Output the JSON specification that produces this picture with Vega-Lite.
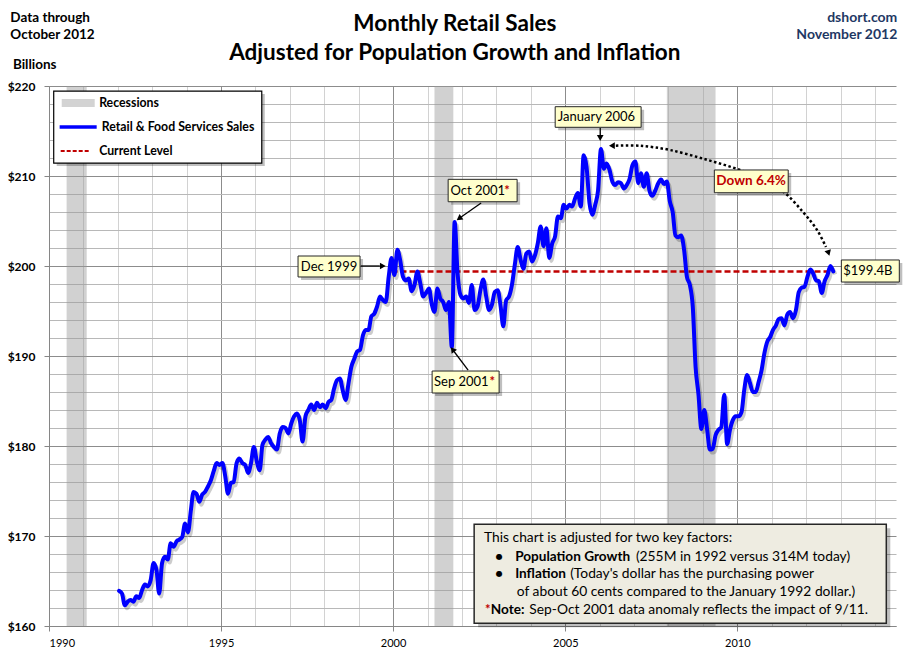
{
  "$schema": "https://vega.github.io/schema/vega-lite/v6.json",
  "width": 847,
  "height": 540,
  "autosize": {"type": "none"},
  "padding": {"left": 49, "top": 86, "right": 15, "bottom": 36},
  "background": "#ffffff",
  "config": {"view": {"stroke": null}, "font": "Lato"},
  "datasets": {
    "sales": [
      {"d":"1992-01-15","v":163.9},{"d":"1992-02-15","v":163.6},{"d":"1992-03-15","v":162.3},{"d":"1992-04-15","v":162.7},{"d":"1992-05-15","v":162.9},{"d":"1992-06-15","v":162.7},{"d":"1992-07-15","v":163.3},{"d":"1992-08-15","v":163.1},{"d":"1992-09-15","v":164.0},{"d":"1992-10-15","v":164.6},{"d":"1992-11-15","v":164.4},{"d":"1992-12-15","v":165.1},
      {"d":"1993-01-15","v":167.0},{"d":"1993-02-15","v":166.2},{"d":"1993-03-15","v":163.6},{"d":"1993-04-15","v":167.0},{"d":"1993-05-15","v":167.7},{"d":"1993-06-15","v":167.4},{"d":"1993-07-15","v":169.2},{"d":"1993-08-15","v":168.8},{"d":"1993-09-15","v":169.4},{"d":"1993-10-15","v":169.6},{"d":"1993-11-15","v":169.9},{"d":"1993-12-15","v":171.4},
      {"d":"1994-01-15","v":170.4},{"d":"1994-02-15","v":172.9},{"d":"1994-03-15","v":174.9},{"d":"1994-04-15","v":174.7},{"d":"1994-05-15","v":173.8},{"d":"1994-06-15","v":174.6},{"d":"1994-07-15","v":174.9},{"d":"1994-08-15","v":175.5},{"d":"1994-09-15","v":176.2},{"d":"1994-10-15","v":177.2},{"d":"1994-11-15","v":178.1},{"d":"1994-12-15","v":177.9},
      {"d":"1995-01-15","v":178.1},{"d":"1995-02-15","v":176.6},{"d":"1995-03-15","v":174.7},{"d":"1995-04-15","v":175.9},{"d":"1995-05-15","v":176.0},{"d":"1995-06-15","v":178.1},{"d":"1995-07-15","v":178.6},{"d":"1995-08-15","v":178.1},{"d":"1995-09-15","v":177.9},{"d":"1995-10-15","v":177.0},{"d":"1995-11-15","v":178.1},{"d":"1995-12-15","v":179.9},
      {"d":"1996-01-15","v":178.3},{"d":"1996-02-15","v":177.3},{"d":"1996-03-15","v":180.1},{"d":"1996-04-15","v":180.7},{"d":"1996-05-15","v":181.0},{"d":"1996-06-15","v":180.3},{"d":"1996-07-15","v":179.9},{"d":"1996-08-15","v":179.6},{"d":"1996-09-15","v":181.4},{"d":"1996-10-15","v":182.1},{"d":"1996-11-15","v":182.0},{"d":"1996-12-15","v":181.4},
      {"d":"1997-01-15","v":182.5},{"d":"1997-02-15","v":183.3},{"d":"1997-03-15","v":183.6},{"d":"1997-04-15","v":182.9},{"d":"1997-05-15","v":180.5},{"d":"1997-06-15","v":183.3},{"d":"1997-07-15","v":184.0},{"d":"1997-08-15","v":184.6},{"d":"1997-09-15","v":184.0},{"d":"1997-10-15","v":184.8},{"d":"1997-11-15","v":184.3},{"d":"1997-12-15","v":184.6},
      {"d":"1998-01-15","v":184.2},{"d":"1998-02-15","v":184.9},{"d":"1998-03-15","v":185.1},{"d":"1998-04-15","v":186.4},{"d":"1998-05-15","v":187.3},{"d":"1998-06-15","v":187.5},{"d":"1998-07-15","v":186.2},{"d":"1998-08-15","v":185.1},{"d":"1998-09-15","v":187.0},{"d":"1998-10-15","v":188.8},{"d":"1998-11-15","v":189.7},{"d":"1998-12-15","v":190.5},
      {"d":"1999-01-15","v":190.7},{"d":"1999-02-15","v":192.3},{"d":"1999-03-15","v":192.9},{"d":"1999-04-15","v":192.9},{"d":"1999-05-15","v":194.4},{"d":"1999-06-15","v":194.7},{"d":"1999-07-15","v":195.5},{"d":"1999-08-15","v":196.6},{"d":"1999-09-15","v":196.2},{"d":"1999-10-15","v":196.0},{"d":"1999-11-15","v":198.8},{"d":"1999-12-15","v":200.9},
      {"d":"2000-01-15","v":199.0},{"d":"2000-02-15","v":201.8},{"d":"2000-03-15","v":200.7},{"d":"2000-04-15","v":198.8},{"d":"2000-05-15","v":198.4},{"d":"2000-06-15","v":198.6},{"d":"2000-07-15","v":197.2},{"d":"2000-08-15","v":197.9},{"d":"2000-09-15","v":199.4},{"d":"2000-10-15","v":198.1},{"d":"2000-11-15","v":196.6},{"d":"2000-12-15","v":197.0},
      {"d":"2001-01-15","v":197.5},{"d":"2001-02-15","v":195.7},{"d":"2001-03-15","v":194.9},{"d":"2001-04-15","v":197.5},{"d":"2001-05-15","v":196.4},{"d":"2001-06-15","v":196.0},{"d":"2001-07-15","v":195.1},{"d":"2001-08-15","v":196.0},{"d":"2001-09-15","v":191.0},{"d":"2001-10-15","v":204.9},{"d":"2001-11-15","v":199.2},{"d":"2001-12-15","v":196.8},
      {"d":"2002-01-15","v":196.4},{"d":"2002-02-15","v":196.6},{"d":"2002-03-15","v":195.9},{"d":"2002-04-15","v":197.9},{"d":"2002-05-15","v":195.1},{"d":"2002-06-15","v":195.5},{"d":"2002-07-15","v":197.3},{"d":"2002-08-15","v":198.5},{"d":"2002-09-15","v":196.6},{"d":"2002-10-15","v":195.1},{"d":"2002-11-15","v":195.7},{"d":"2002-12-15","v":197.1},
      {"d":"2003-01-15","v":197.3},{"d":"2003-02-15","v":195.5},{"d":"2003-03-15","v":193.3},{"d":"2003-04-15","v":196.2},{"d":"2003-05-15","v":196.6},{"d":"2003-06-15","v":197.9},{"d":"2003-07-15","v":200.1},{"d":"2003-08-15","v":202.1},{"d":"2003-09-15","v":200.7},{"d":"2003-10-15","v":199.7},{"d":"2003-11-15","v":201.4},{"d":"2003-12-15","v":201.6},
      {"d":"2004-01-15","v":200.5},{"d":"2004-02-15","v":201.2},{"d":"2004-03-15","v":202.5},{"d":"2004-04-15","v":204.4},{"d":"2004-05-15","v":202.2},{"d":"2004-06-15","v":204.2},{"d":"2004-07-15","v":200.9},{"d":"2004-08-15","v":202.5},{"d":"2004-09-15","v":203.3},{"d":"2004-10-15","v":205.5},{"d":"2004-11-15","v":205.3},{"d":"2004-12-15","v":206.8},
      {"d":"2005-01-15","v":206.4},{"d":"2005-02-15","v":206.8},{"d":"2005-03-15","v":206.6},{"d":"2005-04-15","v":207.5},{"d":"2005-05-15","v":208.1},{"d":"2005-06-15","v":206.6},{"d":"2005-07-15","v":212.3},{"d":"2005-08-15","v":211.0},{"d":"2005-09-15","v":207.0},{"d":"2005-10-15","v":205.7},{"d":"2005-11-15","v":206.8},{"d":"2005-12-15","v":208.4},
      {"d":"2006-01-15","v":213.0},{"d":"2006-02-15","v":210.8},{"d":"2006-03-15","v":211.4},{"d":"2006-04-15","v":210.7},{"d":"2006-05-15","v":209.4},{"d":"2006-06-15","v":209.0},{"d":"2006-07-15","v":209.3},{"d":"2006-08-15","v":209.2},{"d":"2006-09-15","v":208.6},{"d":"2006-10-15","v":209.0},{"d":"2006-11-15","v":209.7},{"d":"2006-12-15","v":211.2},
      {"d":"2007-01-15","v":211.6},{"d":"2007-02-15","v":209.2},{"d":"2007-03-15","v":210.3},{"d":"2007-04-15","v":208.8},{"d":"2007-05-15","v":210.3},{"d":"2007-06-15","v":208.3},{"d":"2007-07-15","v":207.8},{"d":"2007-08-15","v":208.4},{"d":"2007-09-15","v":209.2},{"d":"2007-10-15","v":209.6},{"d":"2007-11-15","v":209.1},{"d":"2007-12-15","v":209.4},
      {"d":"2008-01-15","v":207.2},{"d":"2008-02-15","v":206.0},{"d":"2008-03-15","v":203.4},{"d":"2008-04-15","v":203.2},{"d":"2008-05-15","v":203.4},{"d":"2008-06-15","v":201.8},{"d":"2008-07-15","v":198.8},{"d":"2008-08-15","v":197.9},{"d":"2008-09-15","v":195.5},{"d":"2008-10-15","v":188.8},{"d":"2008-11-15","v":185.7},{"d":"2008-12-15","v":181.9},
      {"d":"2009-01-15","v":184.0},{"d":"2009-02-15","v":181.8},{"d":"2009-03-15","v":179.6},{"d":"2009-04-15","v":179.7},{"d":"2009-05-15","v":181.2},{"d":"2009-06-15","v":181.8},{"d":"2009-07-15","v":182.1},{"d":"2009-08-15","v":185.7},{"d":"2009-09-15","v":180.2},{"d":"2009-10-15","v":181.8},{"d":"2009-11-15","v":182.9},{"d":"2009-12-15","v":183.3},
      {"d":"2010-01-15","v":183.3},{"d":"2010-02-15","v":183.8},{"d":"2010-03-15","v":186.2},{"d":"2010-04-15","v":187.9},{"d":"2010-05-15","v":187.0},{"d":"2010-06-15","v":186.0},{"d":"2010-07-15","v":186.0},{"d":"2010-08-15","v":187.1},{"d":"2010-09-15","v":188.4},{"d":"2010-10-15","v":190.3},{"d":"2010-11-15","v":191.6},{"d":"2010-12-15","v":192.1},
      {"d":"2011-01-15","v":192.9},{"d":"2011-02-15","v":193.4},{"d":"2011-03-15","v":194.1},{"d":"2011-04-15","v":194.2},{"d":"2011-05-15","v":193.4},{"d":"2011-06-15","v":194.6},{"d":"2011-07-15","v":194.9},{"d":"2011-08-15","v":194.2},{"d":"2011-09-15","v":195.1},{"d":"2011-10-15","v":197.1},{"d":"2011-11-15","v":197.6},{"d":"2011-12-15","v":197.7},
      {"d":"2012-01-15","v":198.8},{"d":"2012-02-15","v":199.6},{"d":"2012-03-15","v":199.2},{"d":"2012-04-15","v":198.4},{"d":"2012-05-15","v":198.3},{"d":"2012-06-15","v":197.0},{"d":"2012-07-15","v":198.3},{"d":"2012-08-15","v":199.0},{"d":"2012-09-15","v":200.0},{"d":"2012-10-15","v":199.4}
    ],
    "recessions": [
      {"start":"1990-07-07","end":"1991-02-05"},
      {"start":"2001-03-15","end":"2001-10-01"},
      {"start":"2007-12-15","end":"2009-05-15"}
    ],
    "level": [{"start":"1999-12-15","end":"2012-10-15","v":199.4}],
    "callouts": [
      {"x1":"1997-03-28","x2":"1999-01-15","y1":201.11,"y2":198.78},
      {"x1":"2001-08-07","x2":"2003-08-09","y1":209.63,"y2":207.14},
      {"x1":"2001-02-18","x2":"2003-01-30","y1":188.33,"y2":185.89},
      {"x1":"2004-09-16","x2":"2007-03-17","y1":217.7,"y2":215.41},
      {"x1":"2009-05-02","x2":"2011-06-25","y1":210.67,"y2":208.14},
      {"x1":"2013-01-09","x2":"2014-09-16","y1":200.67,"y2":198.22}
    ],
    "note": [{"x1":"2002-05-10","x2":"2014-05-01","y1":171.3,"y2":160.3}],
    "legendbox": [{"x1":"1990-02-20","x2":"1996-03-08","y1":219.44,"y2":211.44}]
  },
  "layer": [
    {
      "data": {"name": "recessions"},
      "mark": {"type": "rect", "fill": "#9a9a9a", "opacity": 0.45},
      "encoding": {
        "x": {
          "field": "start", "type": "temporal", "title": null,
          "scale": {"domain": [{"year": 1990, "month": 1, "date": 1}, {"year": 2014, "month": 8, "date": 12}], "nice": false},
          "axis": {
            "title": null,
            "tickCount": {"interval": "year", "step": 1},
            "labelExpr": "year(datum.value) % 5 === 0 ? timeFormat(datum.value, '%Y') : ''",
            "labelOverlap": false,
            "labelFont": "Lato", "labelFontSize": 11, "labelColor": "#000",
            "labelPadding": 6, "tickSize": 5,
            "tickColor": {"condition": {"test": "year(datum.value) % 5 === 0", "value": "#868686"}, "value": "transparent"},
            "grid": true,
            "gridColor": {"condition": {"test": "year(datum.value) % 5 === 0", "value": "#8c8c8c"}, "value": "#d2d2d2"},
            "domainColor": "#868686"
          }
        },
        "x2": {"field": "end"}
      }
    },
    {
      "data": {"name": "level"},
      "mark": {"type": "rule", "stroke": "#c00000", "strokeWidth": 2.5, "strokeDash": [6, 3]},
      "encoding": {
        "x": {"field": "start", "type": "temporal", "title": null},
        "x2": {"field": "end"},
        "y": {"field": "v", "type": "quantitative", "title": null}
      }
    },
    {
      "data": {"name": "sales"},
      "mark": {"type": "line", "stroke": "#000", "opacity": 0.2, "strokeWidth": 4, "xOffset": 2, "yOffset": 3, "interpolate": "monotone"},
      "encoding": {
        "x": {"field": "d", "type": "temporal", "title": null},
        "y": {"field": "v", "type": "quantitative", "title": null}
      }
    },
    {
      "data": {"name": "sales"},
      "mark": {"type": "line", "stroke": "#0000ff", "strokeWidth": 4, "interpolate": "monotone", "strokeJoin": "round", "strokeCap": "round"},
      "encoding": {
        "x": {"field": "d", "type": "temporal", "title": null},
        "y": {
          "field": "v", "type": "quantitative", "title": null,
          "scale": {"domain": [160, 220], "nice": false, "zero": false},
          "axis": {
            "title": null,
            "values": [160,162,164,166,168,170,172,174,176,178,180,182,184,186,188,190,192,194,196,198,200,202,204,206,208,210,212,214,216,218,220],
            "tickCount": 31,
            "labelExpr": "datum.value % 10 === 0 ? '$' + datum.value : ''",
            "labelOverlap": false,
            "labelFont": "Lato", "labelFontSize": 12, "labelFontWeight": "bold", "labelColor": "#000",
            "labelPadding": 9, "tickSize": 5,
            "tickColor": {"condition": {"test": "datum.value % 10 === 0", "value": "#868686"}, "value": "transparent"},
            "grid": true,
            "gridColor": {"condition": {"test": "datum.value % 10 === 0", "value": "#8c8c8c"}, "value": "#b8b8b8"},
            "domainColor": "#868686"
          }
        }
      }
    },
    {
      "data": {"values": [
        {"d":"2006-06-22","v":213.37},{"d":"2007-03-05","v":213.36},{"d":"2008-01-17","v":212.89},{"d":"2009-02-03","v":211.83},{"d":"2010-01-29","v":210.67},{"d":"2010-10-22","v":209.44},{"d":"2011-05-22","v":208.11},{"d":"2011-11-29","v":206.0},{"d":"2012-04-26","v":204.0},{"d":"2012-07-30","v":202.11}
      ]},
      "mark": {"type": "line", "stroke": "#000", "strokeWidth": 2.5, "strokeDash": [2.5, 2.5], "interpolate": "cardinal"},
      "encoding": {
        "x": {"field": "d", "type": "temporal", "title": null},
        "y": {"field": "v", "type": "quantitative", "title": null}
      }
    },
    {
      "data": {"values": [
        {"x1":"1999-01-23","x2":"1999-08-13","y1":200.0,"y2":200.0},
        {"x1":"2002-07-23","x2":"2001-12-23","y1":207.0,"y2":205.44},
        {"x1":"2002-03-07","x2":"2001-10-09","y1":188.44,"y2":190.5},
        {"x1":"2006-01-07","x2":"2006-01-07","y1":215.33,"y2":214.44}
      ]},
      "mark": {"type": "rule", "stroke": "#000", "strokeWidth": 1.3},
      "encoding": {
        "x": {"field": "x1", "type": "temporal", "title": null},
        "x2": {"field": "x2"},
        "y": {"field": "y1", "type": "quantitative", "title": null},
        "y2": {"field": "y2"}
      }
    },
    {
      "data": {"values": [{"d":"1999-09-14","v":200.0}]},
      "mark": {"type": "point", "shape": "triangle-up", "angle": 90, "filled": true, "color": "#000", "opacity": 1, "size": 45},
      "encoding": {"x": {"field": "d", "type": "temporal", "title": null}, "y": {"field": "v", "type": "quantitative", "title": null}}
    },
    {
      "data": {"values": [{"d":"2001-12-01","v":205.28}]},
      "mark": {"type": "point", "shape": "triangle-up", "angle": 235, "filled": true, "color": "#000", "opacity": 1, "size": 45},
      "encoding": {"x": {"field": "d", "type": "temporal", "title": null}, "y": {"field": "v", "type": "quantitative", "title": null}}
    },
    {
      "data": {"values": [{"d":"2001-09-23","v":190.72}]},
      "mark": {"type": "point", "shape": "triangle-up", "angle": 323, "filled": true, "color": "#000", "opacity": 1, "size": 45},
      "encoding": {"x": {"field": "d", "type": "temporal", "title": null}, "y": {"field": "v", "type": "quantitative", "title": null}}
    },
    {
      "data": {"values": [{"d":"2006-01-07","v":214.22}]},
      "mark": {"type": "point", "shape": "triangle-up", "angle": 180, "filled": true, "color": "#000", "opacity": 1, "size": 45},
      "encoding": {"x": {"field": "d", "type": "temporal", "title": null}, "y": {"field": "v", "type": "quantitative", "title": null}}
    },
    {
      "data": {"values": [{"d":"2006-05-11","v":213.37}]},
      "mark": {"type": "point", "shape": "triangle-up", "angle": 270, "filled": true, "color": "#000", "opacity": 1, "size": 45},
      "encoding": {"x": {"field": "d", "type": "temporal", "title": null}, "y": {"field": "v", "type": "quantitative", "title": null}}
    },
    {
      "data": {"values": [{"d":"2012-08-26","v":201.44}]},
      "mark": {"type": "point", "shape": "triangle-up", "angle": 163, "filled": true, "color": "#000", "opacity": 1, "size": 45},
      "encoding": {"x": {"field": "d", "type": "temporal", "title": null}, "y": {"field": "v", "type": "quantitative", "title": null}}
    },
    {
      "data": {"name": "callouts"},
      "mark": {"type": "rect", "fill": "#000", "opacity": 0.25, "xOffset": 3, "x2Offset": 3, "yOffset": 3, "y2Offset": 3},
      "encoding": {
        "x": {"field": "x1", "type": "temporal", "title": null}, "x2": {"field": "x2"},
        "y": {"field": "y1", "type": "quantitative", "title": null}, "y2": {"field": "y2"}
      }
    },
    {
      "data": {"name": "note"},
      "mark": {"type": "rect", "fill": "#000", "opacity": 0.25, "xOffset": 4, "x2Offset": 4, "yOffset": 4, "y2Offset": 4},
      "encoding": {
        "x": {"field": "x1", "type": "temporal", "title": null}, "x2": {"field": "x2"},
        "y": {"field": "y1", "type": "quantitative", "title": null}, "y2": {"field": "y2"}
      }
    },
    {
      "data": {"name": "legendbox"},
      "mark": {"type": "rect", "fill": "#000", "opacity": 0.25, "xOffset": 3, "x2Offset": 3, "yOffset": 3, "y2Offset": 3},
      "encoding": {
        "x": {"field": "x1", "type": "temporal", "title": null}, "x2": {"field": "x2"},
        "y": {"field": "y1", "type": "quantitative", "title": null}, "y2": {"field": "y2"}
      }
    },
    {
      "data": {"name": "callouts"},
      "mark": {"type": "rect", "fill": "#ffffcc", "stroke": "#262626", "strokeWidth": 1},
      "encoding": {
        "x": {"field": "x1", "type": "temporal", "title": null}, "x2": {"field": "x2"},
        "y": {"field": "y1", "type": "quantitative", "title": null}, "y2": {"field": "y2"}
      }
    },
    {
      "data": {"name": "note"},
      "mark": {"type": "rect", "fill": "#eeece1", "stroke": "#262626", "strokeWidth": 1.5},
      "encoding": {
        "x": {"field": "x1", "type": "temporal", "title": null}, "x2": {"field": "x2"},
        "y": {"field": "y1", "type": "quantitative", "title": null}, "y2": {"field": "y2"}
      }
    },
    {
      "data": {"name": "legendbox"},
      "mark": {"type": "rect", "fill": "#ffffff", "stroke": "#000000", "strokeWidth": 1.2},
      "encoding": {
        "x": {"field": "x1", "type": "temporal", "title": null}, "x2": {"field": "x2"},
        "y": {"field": "y1", "type": "quantitative", "title": null}, "y2": {"field": "y2"}
      }
    },
    {
      "data": {"values": [{"x1":"1990-05-16","x2":"1991-05-01","y1":218.56,"y2":217.67}]},
      "mark": {"type": "rect", "fill": "#d3d3d3"},
      "encoding": {
        "x": {"field": "x1", "type": "temporal", "title": null}, "x2": {"field": "x2"},
        "y": {"field": "y1", "type": "quantitative", "title": null}, "y2": {"field": "y2"}
      }
    },
    {
      "data": {"values": [{"x1":"1990-04-24","x2":"1991-05-22","v":215.44}]},
      "mark": {"type": "rule", "stroke": "#0000ff", "strokeWidth": 3.5},
      "encoding": {
        "x": {"field": "x1", "type": "temporal", "title": null}, "x2": {"field": "x2"},
        "y": {"field": "v", "type": "quantitative", "title": null}
      }
    },
    {
      "data": {"values": [{"x1":"1990-05-05","x2":"1991-03-19","v":212.78}]},
      "mark": {"type": "rule", "stroke": "#c00000", "strokeWidth": 2, "strokeDash": [4, 2]},
      "encoding": {
        "x": {"field": "x1", "type": "temporal", "title": null}, "x2": {"field": "x2"},
        "y": {"field": "v", "type": "quantitative", "title": null}
      }
    },
    {
      "data": {"values": [
        {"d":"1991-06-17","v":218.11,"label":"Recessions"},
        {"d":"1991-07-15","v":215.44,"label":"Retail & Food Services Sales"},
        {"d":"1991-06-17","v":212.78,"label":"Current Level"}
      ]},
      "mark": {"type": "text", "font": "Lato", "fontSize": 12.3, "fontWeight": "bold", "color": "#000", "align": "left", "baseline": "middle"},
      "encoding": {
        "x": {"field": "d", "type": "temporal", "title": null},
        "y": {"field": "v", "type": "quantitative", "title": null},
        "text": {"field": "label"}
      }
    },
    {
      "data": {"values": [
        {"d":"1998-02-20","v":199.93,"label":"Dec 1999"},
        {"d":"2002-06-18","v":208.37,"label":"Oct 2001"},
        {"d":"2001-12-25","v":187.08,"label":"Sep 2001"},
        {"d":"2005-11-28","v":216.59,"label":"January 2006"},
        {"d":"2013-10-17","v":199.44,"label":"$199.4B"}
      ]},
      "mark": {"type": "text", "font": "Lato", "fontSize": 13, "color": "#000", "align": "center", "baseline": "middle"},
      "encoding": {
        "x": {"field": "d", "type": "temporal", "title": null},
        "y": {"field": "v", "type": "quantitative", "title": null},
        "text": {"field": "label"}
      }
    },
    {
      "data": {"values": [
        {"d":"2003-04-25","v":208.37,"label":"*"},
        {"d":"2002-11-17","v":187.08,"label":"*"}
      ]},
      "mark": {"type": "text", "font": "Lato", "fontSize": 13, "fontWeight": "bold", "color": "#c00000", "align": "center", "baseline": "middle"},
      "encoding": {
        "x": {"field": "d", "type": "temporal", "title": null},
        "y": {"field": "v", "type": "quantitative", "title": null},
        "text": {"field": "label"}
      }
    },
    {
      "data": {"values": [{"d":"2010-05-27","v":209.44,"label":"Down 6.4%"}]},
      "mark": {"type": "text", "font": "Lato", "fontSize": 13.5, "fontWeight": "bold", "color": "#c00000", "align": "center", "baseline": "middle"},
      "encoding": {
        "x": {"field": "d", "type": "temporal", "title": null},
        "y": {"field": "v", "type": "quantitative", "title": null},
        "text": {"field": "label"}
      }
    },
    {
      "data": {"values": [
        {"d":"2002-08-23","v":169.74,"label":"This chart is adjusted for two key factors:"},
        {"d":"2007-01-21","v":167.70,"label":"(255M in 1992  versus 314M today)"},
        {"d":"2005-02-22","v":165.74,"label":"(Today's dollar has the purchasing power"},
        {"d":"2003-08-06","v":163.74,"label":"of about 60 cents compared to the January 1992  dollar.)"},
        {"d":"2003-12-17","v":161.78,"label":"Sep-Oct 2001 data anomaly reflects the impact of 9/11."}
      ]},
      "mark": {"type": "text", "font": "Lato", "fontSize": 13.8, "color": "#000", "align": "left", "baseline": "middle"},
      "encoding": {
        "x": {"field": "d", "type": "temporal", "title": null},
        "y": {"field": "v", "type": "quantitative", "title": null},
        "text": {"field": "label"}
      }
    },
    {
      "data": {"values": [
        {"d":"2003-07-19","v":167.70,"label":"Population Growth"},
        {"d":"2003-07-19","v":165.74,"label":"Inflation"},
        {"d":"2002-11-03","v":161.78,"label":"Note:"}
      ]},
      "mark": {"type": "text", "font": "Lato", "fontSize": 13.6, "fontWeight": "bold", "color": "#000", "align": "left", "baseline": "middle"},
      "encoding": {
        "x": {"field": "d", "type": "temporal", "title": null},
        "y": {"field": "v", "type": "quantitative", "title": null},
        "text": {"field": "label"}
      }
    },
    {
      "data": {"values": [
        {"d":"2003-01-30","v":167.70,"label":"●"},
        {"d":"2003-01-30","v":165.74,"label":"●"}
      ]},
      "mark": {"type": "text", "font": "DejaVu Sans", "fontSize": 8, "color": "#000", "align": "center", "baseline": "middle"},
      "encoding": {
        "x": {"field": "d", "type": "temporal", "title": null},
        "y": {"field": "v", "type": "quantitative", "title": null},
        "text": {"field": "label"}
      }
    },
    {
      "data": {"values": [{"d":"2002-09-03","v":161.78,"label":"*"}]},
      "mark": {"type": "text", "font": "Lato", "fontSize": 13, "fontWeight": "bold", "color": "#c00000", "align": "left", "baseline": "middle"},
      "encoding": {
        "x": {"field": "d", "type": "temporal", "title": null},
        "y": {"field": "v", "type": "quantitative", "title": null},
        "text": {"field": "label"}
      }
    },
    {
      "data": {"values": [
        {"d":"1988-11-17","v":227.14,"label":"Data through\nOctober 2012"}
      ]},
      "mark": {"type": "text", "font": "Lato", "fontSize": 13.5, "fontWeight": "bold", "color": "#000", "align": "left", "baseline": "alphabetic", "lineBreak": "\n", "lineHeight": 17.6},
      "encoding": {
        "x": {"field": "d", "type": "temporal", "title": null},
        "y": {"field": "v", "type": "quantitative", "title": null},
        "text": {"field": "label"}
      }
    },
    {
      "data": {"values": [
        {"d":"1988-12-14","v":221.86,"label":"Billions"}
      ]},
      "mark": {"type": "text", "font": "Lato", "fontSize": 13.5, "fontWeight": "bold", "color": "#000", "align": "left", "baseline": "alphabetic"},
      "encoding": {
        "x": {"field": "d", "type": "temporal", "title": null},
        "y": {"field": "v", "type": "quantitative", "title": null},
        "text": {"field": "label"}
      }
    },
    {
      "data": {"values": [
        {"d":"2014-08-26","v":227.14,"label":"dshort.com\nNovember 2012"}
      ]},
      "mark": {"type": "text", "font": "Lato", "fontSize": 14, "fontWeight": "bold", "color": "#1f3864", "align": "right", "baseline": "alphabetic", "lineBreak": "\n", "lineHeight": 17.6},
      "encoding": {
        "x": {"field": "d", "type": "temporal", "title": null},
        "y": {"field": "v", "type": "quantitative", "title": null},
        "text": {"field": "label"}
      }
    },
    {
      "data": {"values": [
        {"d":"2001-10-17","v":226.06,"label":"Monthly Retail Sales\nAdjusted for Population Growth and Inflation"}
      ]},
      "mark": {"type": "text", "font": "Lato", "fontSize": 22.5, "fontWeight": "bold", "color": "#000", "align": "center", "baseline": "alphabetic", "lineBreak": "\n", "lineHeight": 29},
      "encoding": {
        "x": {"field": "d", "type": "temporal", "title": null},
        "y": {"field": "v", "type": "quantitative", "title": null},
        "text": {"field": "label"}
      }
    }
  ]
}
